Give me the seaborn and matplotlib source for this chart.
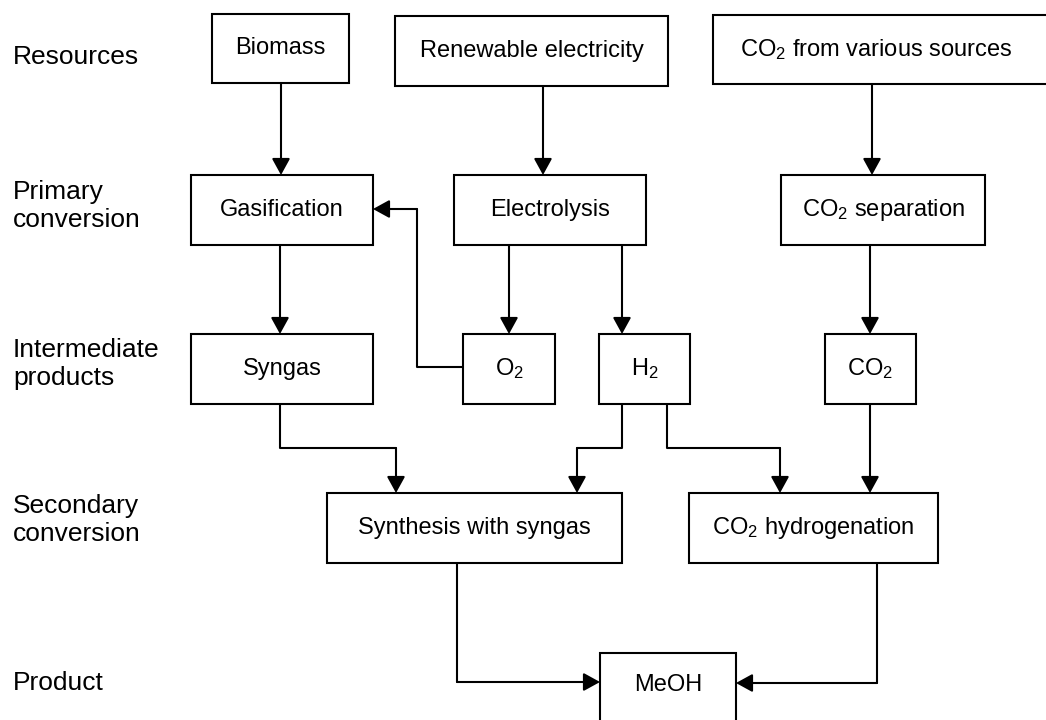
#!/usr/bin/env python

"""Flow chart of methanol production routes, from resources through
primary and secondary conversion to the MeOH product."""

import matplotlib
matplotlib.use('Agg')
import matplotlib.pyplot as plt
from matplotlib.patches import Rectangle
import pandas
import seaborn as sbn

# Chart content.
stage_labels = ['Resources', 'Primary\nconversion', 'Intermediate\nproducts',
                'Secondary\nconversion', 'Product']

node_names = ['biomass', 'electricity', 'co2_sources',
              'gasification', 'electrolysis', 'co2_separation',
              'syngas', 'o2', 'h2', 'co2',
              'synthesis', 'hydrogenation',
              'meoh']

node_texts = ['Biomass', 'Renewable electricity', 'CO$_2$ from various sources',
              'Gasification', 'Electrolysis', 'CO$_2$ separation',
              'Syngas', 'O$_2$', 'H$_2$', 'CO$_2$',
              'Synthesis with syngas', 'CO$_2$ hydrogenation',
              'MeOH']

edges = [('biomass', 'gasification'),
         ('electricity', 'electrolysis'),
         ('co2_sources', 'co2_separation'),
         ('gasification', 'syngas'),
         ('electrolysis', 'o2'),
         ('electrolysis', 'h2'),
         ('co2_separation', 'co2'),
         ('o2', 'gasification'),
         ('syngas', 'synthesis'),
         ('h2', 'synthesis'),
         ('h2', 'hydrogenation'),
         ('co2', 'hydrogenation'),
         ('synthesis', 'meoh'),
         ('hydrogenation', 'meoh')]

# Layout in pixels (x0, x1, y0, y1), y measured downwards.
stage_y = [57, 206, 364, 520, 683]
box_extent = {'biomass': (212, 349, 14, 83),
              'electricity': (395, 668, 16, 86),
              'co2_sources': (713, 1070, 15, 84),
              'gasification': (191, 373, 175, 245),
              'electrolysis': (454, 646, 175, 245),
              'co2_separation': (781, 985, 175, 245),
              'syngas': (191, 373, 334, 404),
              'o2': (463, 555, 334, 404),
              'h2': (599, 690, 334, 404),
              'co2': (825, 916, 334, 404),
              'synthesis': (327, 622, 493, 563),
              'hydrogenation': (689, 938, 493, 563),
              'meoh': (600, 736, 653, 760)}
# Text anchor where the box runs off the picture edge.
text_anchor = {'co2_sources': (876, 50), 'meoh': (668, 685)}

# Connector routes (polyline vertices, the last segment gets an arrow head).
routes = {('biomass', 'gasification'): [(281, 83), (281, 175)],
          ('electricity', 'electrolysis'): [(543, 86), (543, 175)],
          ('co2_sources', 'co2_separation'): [(872, 84), (872, 175)],
          ('gasification', 'syngas'): [(280, 245), (280, 334)],
          ('electrolysis', 'o2'): [(509, 245), (509, 334)],
          ('electrolysis', 'h2'): [(622, 245), (622, 334)],
          ('co2_separation', 'co2'): [(870, 245), (870, 334)],
          ('o2', 'gasification'): [(463, 367), (417, 367), (417, 209),
                                   (373, 209)],
          ('syngas', 'synthesis'): [(280, 404), (280, 448), (396, 448),
                                    (396, 493)],
          ('h2', 'synthesis'): [(622, 404), (622, 448), (577, 448),
                                (577, 493)],
          ('h2', 'hydrogenation'): [(667, 404), (667, 448), (780, 448),
                                    (780, 493)],
          ('co2', 'hydrogenation'): [(870, 404), (870, 493)],
          ('synthesis', 'meoh'): [(457, 563), (457, 682), (600, 682)],
          ('hydrogenation', 'meoh'): [(877, 563), (877, 683), (736, 683)]}

sbn.set_theme(style='white')
plt.rcParams.update({'font.family': ['Liberation Sans', 'DejaVu Sans'],
                     'text.color': 'black',
                     'mathtext.fontset': 'custom',
                     'mathtext.rm': 'Liberation Sans',
                     'mathtext.default': 'regular'})

fig = plt.figure(figsize=(10.46, 7.2), dpi=100)
ax = fig.add_axes([0, 0, 1, 1])

line_width = 1.5

for label, y in zip(stage_labels, stage_y):
    ax.text(13, y, label, fontsize=19, ha='left', va='center',
            linespacing=1.2)

for name, text in zip(node_names, node_texts):
    x0, x1, y0, y1 = box_extent[name]
    ax.add_patch(Rectangle((x0, y0), x1 - x0, y1 - y0, facecolor='white',
                           edgecolor='black', linewidth=line_width,
                           zorder=2))
    xc, yc = text_anchor.get(name, ((x0 + x1) / 2.0, (y0 + y1) / 2.0))
    ax.text(xc, yc, text, fontsize=17, ha='center', va='center', zorder=3)

for edge in edges:
    pts = routes[edge]
    df = pandas.DataFrame(pts, columns=['x', 'y'])
    if len(pts) > 2:
        sbn.lineplot(data=df.iloc[:-1], x='x', y='y', sort=False,
                     estimator=None, color='black', linewidth=line_width,
                     ax=ax, zorder=1)
    ax.annotate('', xy=pts[-1], xytext=pts[-2],
                arrowprops=dict(arrowstyle='-|>,head_length=1.0,head_width=0.55',
                                mutation_scale=10, color='black',
                                linewidth=line_width, shrinkA=0, shrinkB=0),
                zorder=4)

ax.set_xlim(0, 1046)
ax.set_ylim(720, 0)
ax.axis('off')

fig.savefig('out.png', dpi=100)
